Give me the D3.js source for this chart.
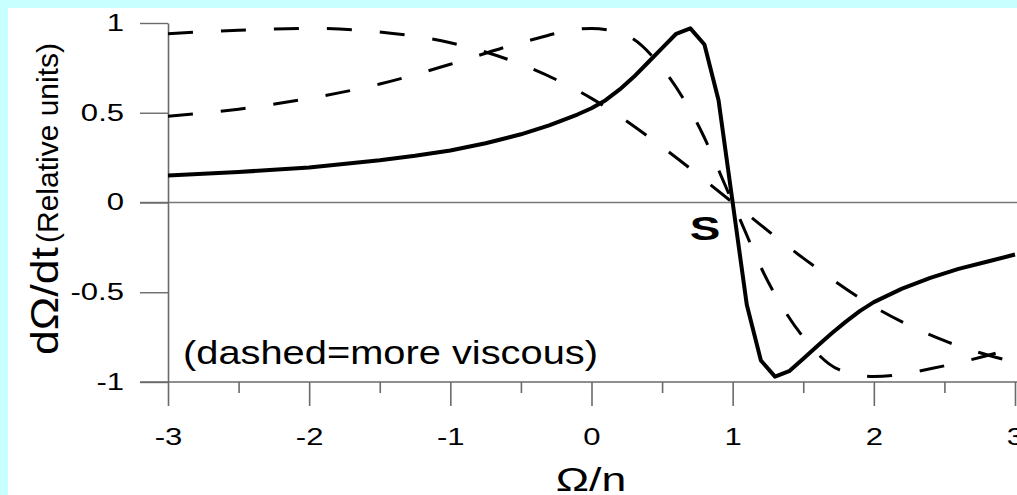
<!DOCTYPE html>
<html>
<head>
<meta charset="utf-8">
<script src="https://cdn.jsdelivr.net/npm/d3@7"></script>
<style>
  html, body { margin: 0; padding: 0; background: #c8ffff; overflow: hidden; }
  svg { display: block; }
  text { font-family: Arial, "Liberation Sans", Helvetica, sans-serif; fill: #000; }
</style>
</head>
<body>
<svg id="chart" width="1017" height="495"></svg>
<script>
// Normalised dΩ/dt against Ω/n for three viscosities
const omegaLow  = [-3, -2.5, -2, -1.5, -1.25, -1, -0.75, -0.5, -0.3, -0.1, 0, 0.1, 0.2, 0.3, 0.4, 0.5, 0.6, 0.7, 0.8, 0.9, 1.0,
                   1.1, 1.2, 1.3, 1.4, 1.5, 1.6, 1.7, 1.8, 1.9, 2.0, 2.2, 2.4, 2.6, 2.8, 3.0];
const rateLow   = [0.15, 0.17, 0.195, 0.235, 0.26, 0.29, 0.33, 0.38, 0.43, 0.49, 0.525, 0.57, 0.63, 0.70, 0.78, 0.86, 0.94, 0.97, 0.88, 0.57, 0,
                   -0.57, -0.88, -0.97, -0.94, -0.87, -0.80, -0.73, -0.665, -0.605, -0.555, -0.48, -0.42, -0.37, -0.33, -0.29];

const omegaMid  = [-3, -2.5, -2, -1.5, -1, -0.5, 0, 0.25, 0.5, 0.75, 1, 1.25, 1.5, 1.75, 2, 2.5, 3];
const rateMid   = [0.48, 0.52, 0.58, 0.66, 0.77, 0.89, 0.97, 0.93, 0.75, 0.44, 0, -0.44, -0.75, -0.93, -0.97, -0.91, -0.81];

const omegaHigh = [-3, -2.5, -2, -1.5, -1, -0.5, 0, 0.5, 1, 1.5, 2, 2.5, 3];
const rateHigh  = [0.94, 0.96, 0.97, 0.95, 0.89, 0.77, 0.58, 0.31, 0, -0.31, -0.58, -0.77, -0.89];

const yTicks = [-1, -0.5, 0, 0.5, 1];
const yTickLabels = ["-1", "-0.5", "0", "0.5", "1"];
const xTicks = [-3, -2.5, -2, -1.5, -1, -0.5, 0, 0.5, 1, 1.5, 2, 2.5, 3];
const xTickLabels = ["-3", "", "-2", "", "-1", "", "0", "", "1", "", "2", "", "3"];

const W = 1017, H = 495;
const SX = 1.35;          // horizontal text stretch
const svg = d3.select("#chart");

// white panel inside the cyan frame
svg.append("rect").attr("x", 8).attr("y", 8).attr("width", W - 8).attr("height", H - 8).attr("fill", "#fff");

const x = d3.scaleLinear().domain([-3, 3]).range([168, 1015]);
const y = d3.scaleLinear().domain([-1, 1]).range([382, 23]);

const axisColor = "#6a6a6a";

// zero line
svg.append("line")
  .attr("x1", 140).attr("x2", W).attr("y1", y(0)).attr("y2", y(0))
  .attr("stroke", "#777").attr("stroke-width", 1.3);

// y axis
const gy = svg.append("g").attr("transform", `translate(${x(-3)},0)`)
  .call(d3.axisLeft(y).tickValues(yTicks).tickSize(28).tickSizeOuter(0)
        .tickFormat((d, i) => yTickLabels[i]));
gy.select(".domain").attr("stroke", axisColor).attr("stroke-width", 1.6);
gy.selectAll(".tick line").attr("stroke", axisColor).attr("stroke-width", 1.4);
gy.selectAll(".tick text")
  .attr("font-size", 23).attr("font-family", "Arial, 'Liberation Sans', sans-serif")
  .attr("x", -44 / SX).attr("transform", `scale(${SX},1)`);

// x axis: baseline at -1, long ticks on integers, short ticks on halves
const gx = svg.append("g").attr("transform", `translate(0,${y(-1)})`)
  .call(d3.axisBottom(x).tickValues(xTicks).tickSize(24).tickSizeOuter(0)
        .tickFormat((d, i) => xTickLabels[i]));
gx.select(".domain").remove();
gx.append("line").attr("x1", 140).attr("x2", W).attr("y1", 0).attr("y2", 0)
  .attr("stroke", axisColor).attr("stroke-width", 1.6);
gx.selectAll(".tick line").attr("stroke", axisColor).attr("stroke-width", 1.6)
  .attr("y2", (d, i) => xTickLabels[i] === "" ? 11 : 24);
gx.selectAll(".tick text")
  .attr("font-size", 23).attr("font-family", "Arial, 'Liberation Sans', sans-serif")
  .attr("x", 0).attr("y", 63).attr("dy", 0)
  .attr("transform", `scale(${SX},1)`);

// curves
const line = d3.line().x(d => x(d[0])).y(d => y(d[1]));
const pairs = (xs, ys) => xs.map((v, i) => [v, ys[i]]);

svg.append("path").datum(pairs(omegaHigh, rateHigh))
  .attr("d", line.curve(d3.curveMonotoneX))
  .attr("fill", "none").attr("stroke", "#000").attr("stroke-width", 3)
  .attr("stroke-dasharray", "25,28");
svg.append("path").datum(pairs(omegaMid, rateMid))
  .attr("d", line.curve(d3.curveMonotoneX))
  .attr("fill", "none").attr("stroke", "#000").attr("stroke-width", 3)
  .attr("stroke-dasharray", "25,28");
svg.append("path").datum(pairs(omegaLow, rateLow))
  .attr("d", line.curve(d3.curveLinear))
  .attr("fill", "none").attr("stroke", "#000").attr("stroke-width", 4)
  .attr("stroke-linejoin", "round");

// labels
function stretchedText(px, py, str, size, weight, anchor) {
  return svg.append("text")
    .attr("transform", `translate(${px},${py}) scale(${SX},1)`)
    .attr("font-size", size).attr("font-weight", weight || "normal")
    .attr("text-anchor", anchor || "start")
    .text(str);
}
stretchedText(705, 240, "S", 34, "bold", "middle");
svg.append("text").attr("x", 183).attr("y", 364)
  .attr("font-size", 34).attr("textLength", 415).attr("lengthAdjust", "spacingAndGlyphs")
  .text("(dashed=more viscous)");
stretchedText(591, 491, "Ω/n", 33, "normal", "middle");

// y axis title, rotated, reading upwards
svg.append("text")
  .attr("transform", "translate(58,355) rotate(-90)")
  .attr("font-size", 38).attr("textLength", 108).attr("lengthAdjust", "spacingAndGlyphs")
  .text("dΩ/dt");
svg.append("text")
  .attr("transform", "translate(58,243) rotate(-90)")
  .attr("font-size", 29).attr("textLength", 200).attr("lengthAdjust", "spacingAndGlyphs")
  .text("(Relative units)");
</script>
</body>
</html>
